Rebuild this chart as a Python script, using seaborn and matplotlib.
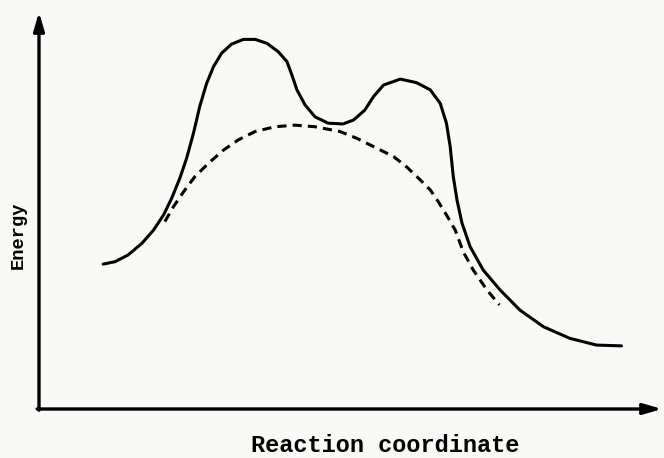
"""
plot.py

Reaction-coordinate energy profile: double-humped barrier (solid)
versus a single smooth barrier (dashed).
"""

import pandas as pd
import seaborn as sns
import matplotlib.pyplot as plt

# values, both axes in arbitrary units 0-100
solid_x = [10.3, 12.2, 14.3, 16.5, 18.4, 20.0, 21.3, 22.6, 23.7, 24.8,
           25.8, 26.9, 28.0, 29.3, 30.9, 32.8, 34.7, 36.6, 38.4, 39.8,
           40.6, 41.4, 42.7, 44.3, 46.4, 48.8, 50.5, 52.3, 53.7, 55.3,
           58.0, 60.6, 62.8, 64.4, 65.4, 66.0, 66.5, 67.1, 67.9, 69.2,
           71.3, 74.0, 77.2, 81.0, 85.2, 89.5, 93.5]
solid_y = [36.5, 37.1, 38.8, 41.7, 45.1, 48.9, 53.1, 58.1, 63.2, 69.5,
           76.2, 82.0, 86.2, 89.6, 91.9, 93.1, 93.1, 92.1, 90.0, 87.5,
           84.1, 80.4, 76.6, 73.6, 72.0, 71.8, 72.8, 75.3, 78.7, 81.6,
           83.1, 82.2, 80.4, 77.0, 72.0, 66.1, 58.5, 52.6, 46.8, 40.9,
           35.0, 30.0, 24.9, 20.7, 17.8, 16.1, 15.9]

dashed_x = [20.2, 21.6, 23.2, 25.0, 27.2, 29.6, 32.0, 34.7, 37.9, 41.1,
            44.3, 48.3, 51.0, 54.2, 56.9, 59.0, 61.2, 62.8, 64.1, 65.4,
            66.8, 68.1, 69.7, 71.9, 73.9]
dashed_y = [47.2, 51.0, 54.7, 58.5, 61.9, 65.2, 67.8, 69.9, 71.1, 71.5,
            71.1, 69.9, 68.2, 65.7, 63.6, 61.0, 57.7, 55.2, 52.2, 48.9,
            45.1, 39.6, 35.0, 30.0, 26.2]

solid = pd.DataFrame({"x": solid_x, "y": solid_y})
dashed = pd.DataFrame({"x": dashed_x, "y": dashed_y})

sns.set_style("white")
bg = "#f9f9f8"
fig = plt.figure(figsize=(6.64, 4.58), dpi=100, facecolor=bg)
# axes box: x-axis at 409px, y-axis at 39px, arrow tips at 662px / 12px
ax = fig.add_axes([39 / 664, (458 - 409) / 458, (662 - 39) / 664, (409 - 12) / 458])
ax.set_facecolor(bg)

sns.lineplot(data=solid, x="x", y="y", sort=False, color="black",
             linewidth=2.2, ax=ax)
sns.lineplot(data=dashed, x="x", y="y", sort=False, color="black",
             linewidth=2.2, linestyle=(0, (3, 2)), ax=ax)
for ln in ax.lines:
    ln.set_solid_joinstyle("round")
    ln.set_solid_capstyle("round")

ax.set_xlim(0, 100)
ax.set_ylim(0, 100)
ax.set_xticks([])
ax.set_yticks([])
ax.set_xlabel("")
ax.set_ylabel("")
for s in ax.spines.values():
    s.set_visible(False)

# axes drawn as arrows
arrow = dict(arrowstyle="-|>,head_length=0.55,head_width=0.16",
             color="black", linewidth=2.4, mutation_scale=20,
             shrinkA=0, shrinkB=0)
ax.annotate("", xy=(0, 1), xytext=(0, -0.003), xycoords="axes fraction",
            arrowprops=arrow, annotation_clip=False)
ax.annotate("", xy=(1, 0), xytext=(-0.003, 0), xycoords="axes fraction",
            arrowprops=arrow, annotation_clip=False)

fig.text(385 / 664, 1 - 457 / 458, "Reaction coordinate",
         family="Liberation Mono", weight="bold", fontsize=17,
         color="black", ha="center", va="bottom")
fig.text(18 / 664, 1 - 235 / 458, "Energy", rotation=90,
         family="Liberation Mono", weight="bold", fontsize=13.5,
         color="black", ha="center", va="center")

plt.savefig("out.png", dpi=100, facecolor=bg)
